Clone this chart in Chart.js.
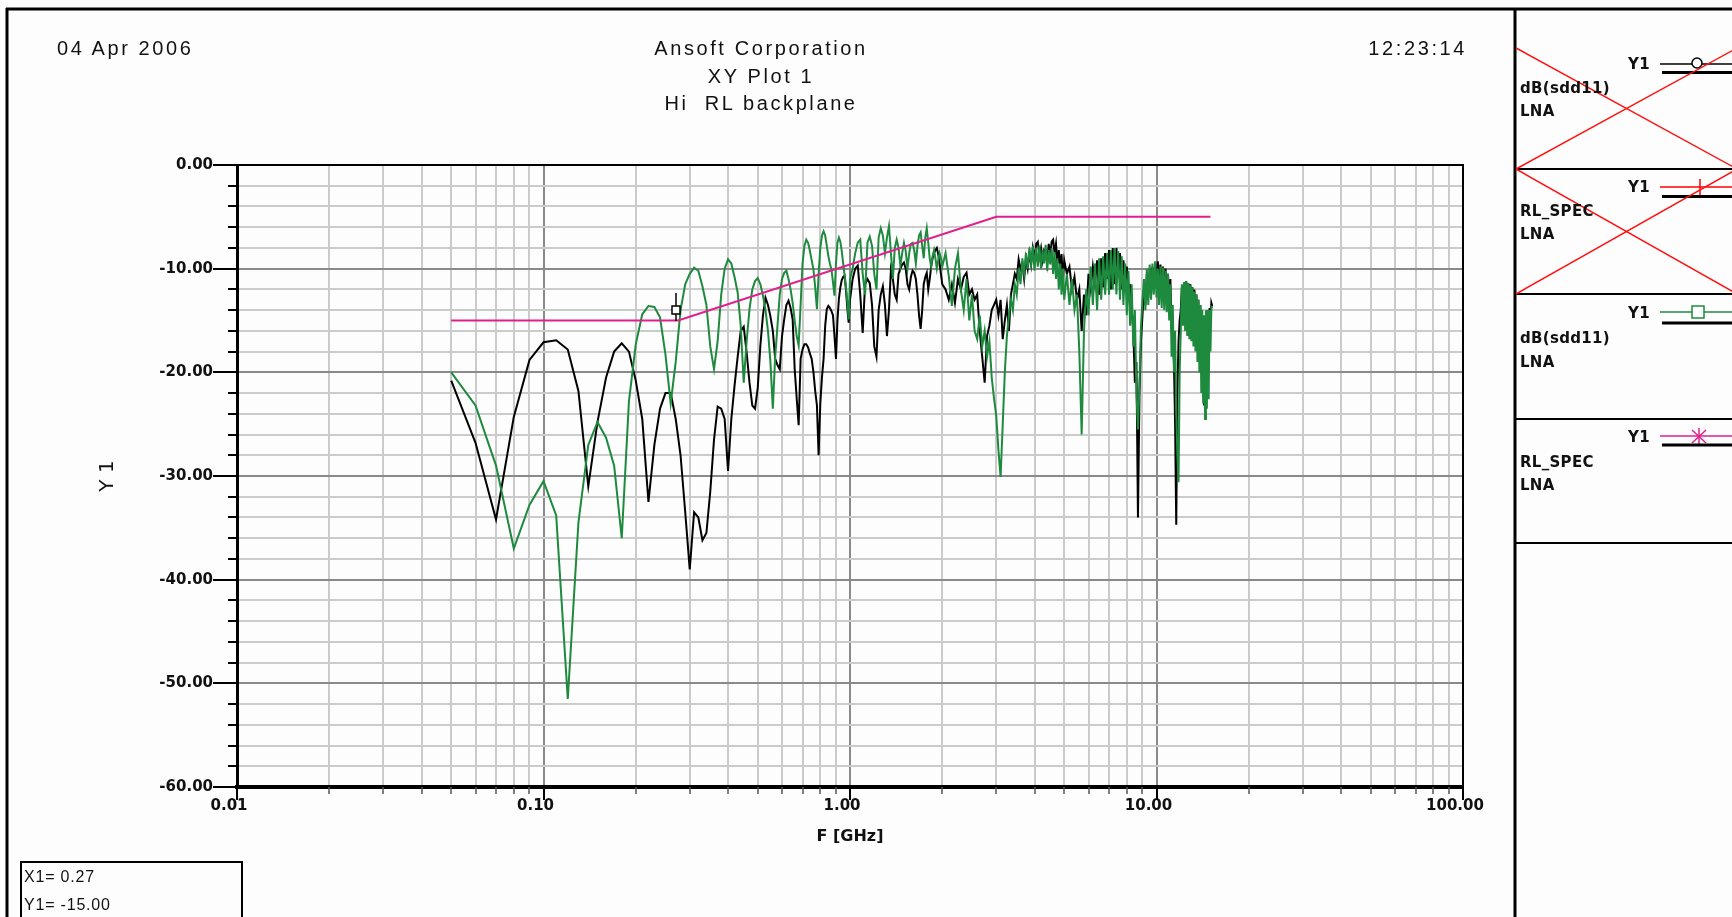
<!DOCTYPE html>
<html>
<head>
<meta charset="utf-8">
<title>XY Plot 1 - Hi RL backplane</title>
<script src="https://cdn.jsdelivr.net/npm/chart.js@4.4.1/dist/chart.umd.min.js"></script>
<style>
  html, body { margin:0; padding:0; background:#fdfdfd; }
  #page { position:relative; width:1732px; height:917px; overflow:hidden; background:#fdfdfd; }
  #chart { position:absolute; left:0; top:0; }
  #deco { position:absolute; left:0; top:0; }
  .hdr { position:absolute; font-family:"Liberation Sans", Arial, sans-serif; font-size:20px; line-height:22px; letter-spacing:2.6px; color:#111; white-space:pre; }
  .leg { position:absolute; font-family:"DejaVu Sans", sans-serif; font-weight:bold; font-size:15px; line-height:18px; letter-spacing:0.3px; color:#111; white-space:pre; }
  .mk { position:absolute; font-family:"Liberation Sans", Arial, sans-serif; font-size:16px; line-height:18px; letter-spacing:0.8px; color:#111; white-space:pre; }
</style>
</head>
<body>
<div id="page">
  <canvas id="chart" width="1732" height="917"></canvas>
  <svg id="deco" width="1732" height="917" xmlns="http://www.w3.org/2000/svg">
    <!-- outer frame -->
    <line x1="6" y1="9" x2="1732" y2="9" stroke="#000" stroke-width="3"/>
    <line x1="7" y1="8" x2="7" y2="917" stroke="#000" stroke-width="3"/>
    <line x1="1515" y1="8" x2="1515" y2="917" stroke="#000" stroke-width="3"/>
    <!-- legend panel separators -->
    <line x1="1515" y1="169" x2="1732" y2="169" stroke="#000" stroke-width="2"/>
    <line x1="1515" y1="294" x2="1732" y2="294" stroke="#000" stroke-width="2"/>
    <line x1="1515" y1="419" x2="1732" y2="419" stroke="#000" stroke-width="2"/>
    <line x1="1515" y1="543" x2="1732" y2="543" stroke="#000" stroke-width="2"/>
    <!-- panel 1 sample -->
    <line x1="1660" y1="64" x2="1732" y2="64" stroke="#000" stroke-width="1.5"/>
    <circle cx="1697" cy="63" r="5" fill="#fdfdfd" stroke="#000" stroke-width="1.5"/>
    <line x1="1662" y1="72.5" x2="1732" y2="72.5" stroke="#000" stroke-width="3"/>
    <!-- panel 2 sample -->
    <line x1="1660" y1="187" x2="1732" y2="187" stroke="#ff0000" stroke-width="1.5"/>
    <line x1="1700" y1="179" x2="1700" y2="195" stroke="#ff0000" stroke-width="1.5"/>
    <line x1="1662" y1="196.5" x2="1732" y2="196.5" stroke="#000" stroke-width="3"/>
    <!-- panel 3 sample -->
    <line x1="1660" y1="312" x2="1732" y2="312" stroke="#1e8a3e" stroke-width="1.5"/>
    <rect x="1692" y="306" width="12" height="12" fill="#fdfdfd" stroke="#1e8a3e" stroke-width="1.5"/>
    <line x1="1662" y1="323" x2="1732" y2="323" stroke="#000" stroke-width="3"/>
    <!-- panel 4 sample -->
    <line x1="1660" y1="436" x2="1732" y2="436" stroke="#e0208c" stroke-width="1.5"/>
    <g stroke="#e0208c" stroke-width="1.5">
      <line x1="1699" y1="428" x2="1699" y2="445"/>
      <line x1="1692" y1="430" x2="1706" y2="443"/>
      <line x1="1692" y1="443" x2="1706" y2="430"/>
    </g>
    <line x1="1662" y1="445" x2="1732" y2="445" stroke="#000" stroke-width="3"/>
    <!-- red crosses (hidden traces) -->
    <g stroke="#ff1010" stroke-width="1.5">
      <line x1="1516" y1="48" x2="1737" y2="169"/>
      <line x1="1516" y1="169" x2="1737" y2="48"/>
      <line x1="1516" y1="169" x2="1737" y2="294"/>
      <line x1="1516" y1="294" x2="1737" y2="169"/>
    </g>
    <!-- marker readout box -->
    <rect x="21" y="862" width="221" height="80" fill="none" stroke="#000" stroke-width="2"/>
  </svg>

  <div class="hdr" style="left:57px; top:37px;">04 Apr 2006</div>
  <div class="hdr" style="left:761px; top:37px; transform:translateX(-50%);">Ansoft Corporation</div>
  <div class="hdr" style="left:761px; top:64.5px; transform:translateX(-50%);">XY Plot 1</div>
  <div class="hdr" style="left:761px; top:92px; transform:translateX(-50%);">Hi  RL backplane</div>
  <div class="hdr" style="left:1467px; top:37px; transform:translateX(-100%);">12:23:14</div>

  <div class="leg" style="left:1628px; top:55px;">Y1</div>
  <div class="leg" style="left:1520px; top:79px;">dB(sdd11)</div>
  <div class="leg" style="left:1520px; top:102px;">LNA</div>

  <div class="leg" style="left:1628px; top:178px;">Y1</div>
  <div class="leg" style="left:1520px; top:202px;">RL_SPEC</div>
  <div class="leg" style="left:1520px; top:225px;">LNA</div>

  <div class="leg" style="left:1628px; top:304px;">Y1</div>
  <div class="leg" style="left:1520px; top:329px;">dB(sdd11)</div>
  <div class="leg" style="left:1520px; top:352.5px;">LNA</div>

  <div class="leg" style="left:1628px; top:428px;">Y1</div>
  <div class="leg" style="left:1520px; top:452.5px;">RL_SPEC</div>
  <div class="leg" style="left:1520px; top:475.5px;">LNA</div>

  <div class="mk" style="left:24px; top:868px;">X1= 0.27</div>
  <div class="mk" style="left:24px; top:896px;">Y1= -15.00</div>
</div>

<script>
// ---------------- data ----------------
const freqGHz = [
  0.05,0.06,0.07,0.08,0.09,0.10,0.11,0.12,0.13,0.14,0.15,0.16,0.17,0.18,0.19,0.20,0.21,0.22,0.23,0.24,0.25,0.26,0.27,0.28,0.29,0.30,
  0.31,0.32,0.33,0.34,0.35,0.36,0.37,0.38,0.39,0.40,
  0.41,0.42,0.43,0.44,0.45,0.46,0.47,0.48,0.49,0.50,
  0.51,0.52,0.53,0.54,0.55,0.56,0.57,0.58,0.59,0.60,
  0.61,0.62,0.63,0.64,0.65,0.66,0.67,0.68,0.69,0.70,
  0.71,0.72,0.73,0.74,0.75,0.76,0.77,0.78,0.79,0.80,
  0.81,0.82,0.83,0.84,0.85,0.86,0.87,0.88,0.89,0.90,
  0.91,0.92,0.93,0.94,0.95,0.96,0.97,0.98,0.99,1.00,
  1.02,1.04,1.06,1.08,1.10,1.12,1.14,1.16,1.18,1.20,
  1.22,1.24,1.26,1.28,1.30,1.32,1.34,1.36,1.38,1.40,
  1.42,1.44,1.46,1.48,1.50,1.52,1.54,1.56,1.58,1.60,
  1.62,1.64,1.66,1.68,1.70,1.72,1.74,1.76,1.78,1.80,
  1.82,1.84,1.86,1.88,1.90,1.92,1.94,1.96,1.98,2.00,
  2.05,2.10,2.15,2.20,2.25,2.30,2.35,2.40,2.45,2.50,
  2.55,2.60,2.65,2.70,2.75,2.80,2.85,2.90,2.95,3.00,
  3.05,3.10,3.15,3.20,3.25,3.30,3.35,3.40,3.45,3.50,
  3.55,3.60,3.65,3.70,3.75,3.80,3.85,3.90,3.95,4.00,
  4.05,4.10,4.15,4.20,4.25,4.30,4.35,4.40,4.45,4.50,
  4.55,4.60,4.65,4.70,4.75,4.80,4.85,4.90,4.95,5.00,
  5.1,5.2,5.3,5.4,5.5,5.6,5.7,5.8,5.9,6.0,
  6.1,6.2,6.3,6.4,6.5,6.6,6.7,6.8,6.9,7.0,
  7.1,7.2,7.3,7.4,7.5,7.6,7.7,7.8,7.9,8.0,
  8.1,8.2,8.3,8.4,8.5,8.6,8.7,8.8,8.9,9.0,
  9.1,9.2,9.3,9.4,9.5,9.6,9.7,9.8,9.9,10.0,
  10.1,10.2,10.3,10.4,10.5,10.6,10.7,10.8,10.9,11.0,
  11.1,11.2,11.3,11.4,11.5,11.6,11.7,11.8,11.9,12.0,
  12.1,12.2,12.3,12.4,12.5,12.6,12.7,12.8,12.9,13.0,
  13.1,13.2,13.3,13.4,13.5,13.6,13.7,13.8,13.9,14.0,
  14.1,14.2,14.3,14.4,14.5,14.6,14.7,14.8,14.9,15.0,
  15.1,15.2
];

// black trace: dB(sdd11) LNA
const blackDb = [
  -20.8,-26.8,-34.2,-24.3,-18.8,-17.1,-16.9,-17.8,-21.8,-31.0,-24.8,-20.5,-18.0,-17.2,-18.0,-20.8,-24.5,-32.5,-27.0,-23.5,-22.0,-22.0,-24.5,-28.0,-33.5,-39.0,
  -33.5,-34.0,-36.2,-35.5,-31.5,-26.5,-23.3,-23.5,-24.5,-29.5,
  -24.5,-21.3,-18.5,-16.0,-15.6,-18.1,-21.0,-23.2,-23.5,-21.5,
  -17.4,-14.5,-12.8,-13.5,-14.6,-16.0,-18.7,-19.3,-19.7,-16.5,
  -14.9,-13.5,-13.1,-13.8,-14.9,-19.7,-22.5,-25.1,-18.7,-17.8,
  -17.3,-17.3,-17.6,-18.2,-18.7,-20.0,-21.8,-23.2,-28.0,-23.0,
  -20.5,-18.7,-15.5,-13.9,-13.6,-13.8,-14.1,-14.5,-16.5,-18.7,
  -15.0,-12.9,-11.8,-11.1,-10.8,-10.7,-12.0,-13.8,-15.2,-13.0,
  -11.0,-10.0,-9.7,-12.5,-16.2,-11.5,-11.0,-11.4,-13.5,-17.5,
  -18.5,-14.0,-12.5,-11.7,-13.5,-16.5,-14.0,-10.1,-11.0,-12.5,
  -13.0,-10.5,-10.0,-9.6,-9.4,-10.0,-11.5,-12.0,-10.8,-10.2,
  -10.4,-11.0,-12.5,-14.5,-15.8,-14.0,-11.5,-10.8,-10.4,-12.0,
  -11.0,-9.8,-9.0,-8.5,-8.2,-8.0,-8.6,-9.5,-10.5,-11.5,
  -12.0,-13.0,-11.5,-13.3,-11.0,-12.0,-10.8,-10.4,-12.5,-12.0,
  -13.0,-12.5,-16.0,-18.5,-21.0,-16.5,-15.5,-14.0,-13.5,-13.0,
  -14.5,-13.0,-16.8,-15.0,-13.5,-16.0,-12.5,-11.5,-10.5,-11.0,
  -9.1,-10.0,-9.5,-11.0,-9.0,-10.0,-8.5,-9.6,-8.0,-9.0,
  -7.6,-7.4,-8.8,-8.0,-9.2,-8.2,-8.4,-9.5,-7.6,-8.8,
  -7.4,-7.2,-8.5,-7.6,-9.5,-8.2,-10.0,-8.6,-11.2,-9.2,
  -10.5,-9.8,-12.0,-10.8,-13.0,-12.0,-16.0,-12.5,-14.5,-10.5,
  -12.0,-9.8,-11.5,-9.2,-12.5,-9.0,-11.8,-8.5,-11.0,-8.2,
  -12.0,-8.0,-11.5,-8.0,-10.5,-8.5,-12.0,-9.2,-11.0,-9.8,
  -13.0,-11.5,-14.0,-16.0,-21.0,-19.0,-34.0,-22.0,-17.0,-14.5,
  -12.0,-13.5,-10.5,-12.8,-10.0,-12.5,-9.8,-12.0,-9.5,-11.5,
  -9.3,-11.5,-9.6,-12.3,-9.8,-12.8,-10.0,-13.0,-10.5,-13.5,
  -11.0,-16.0,-17.0,-19.0,-25.0,-34.7,-22.0,-17.0,-15.0,-14.0,
  -11.8,-14.5,-11.5,-15.0,-11.2,-15.5,-11.4,-16.0,-11.5,-16.5,
  -11.8,-16.8,-12.0,-17.0,-12.5,-17.0,-13.0,-18.0,-13.5,-19.0,
  -15.0,-21.0,-23.2,-18.0,-14.5,-17.5,-14.0,-19.0,-13.8,-15.5,
  -13.3,-13.6
];

// green trace: dB(sdd11) LNA
const greenDb = [
  -20.0,-23.2,-29.0,-37.0,-32.8,-30.5,-33.8,-51.5,-34.5,-27.0,-24.8,-26.3,-29.0,-36.0,-22.8,-17.3,-14.4,-13.6,-13.7,-14.7,-18.3,-23.0,-19.0,-14.0,-11.5,-10.5,
  -9.9,-10.2,-11.7,-13.5,-17.5,-19.7,-17.0,-12.5,-10.0,-9.1,
  -9.5,-10.8,-12.3,-15.5,-21.0,-17.0,-13.9,-12.0,-11.2,-10.9,
  -11.5,-12.6,-14.0,-16.0,-19.0,-23.5,-18.5,-15.5,-12.5,-11.0,
  -10.4,-10.2,-11.0,-12.0,-13.3,-15.0,-16.5,-17.4,-13.5,-9.5,
  -7.8,-7.2,-7.5,-8.3,-9.2,-10.1,-11.8,-13.9,-10.5,-8.0,
  -6.8,-6.4,-6.8,-7.8,-8.8,-9.5,-10.1,-11.3,-12.6,-9.5,
  -7.5,-7.0,-7.4,-8.3,-9.5,-10.6,-11.7,-13.2,-14.9,-11.0,
  -10.0,-8.5,-7.5,-7.2,-10.5,-12.5,-7.5,-6.9,-7.8,-10.5,
  -12.0,-7.0,-6.1,-6.8,-8.5,-7.0,-5.9,-8.5,-11.0,-8.0,
  -7.2,-8.0,-9.7,-8.5,-7.5,-8.3,-10.0,-8.5,-7.6,-7.5,
  -8.2,-9.5,-7.8,-6.8,-6.5,-7.8,-9.0,-7.0,-6.1,-7.5,
  -9.0,-9.8,-8.8,-8.2,-9.0,-10.0,-9.2,-8.5,-9.0,-9.8,
  -8.5,-10.7,-13.6,-10.0,-8.5,-12.0,-14.0,-11.0,-15.0,-12.5,
  -16.0,-16.8,-14.5,-17.5,-16.0,-18.5,-17.0,-20.5,-22.5,-24.2,
  -27.5,-30.1,-25.0,-20.0,-16.5,-14.5,-13.0,-14.0,-11.5,-12.5,
  -10.0,-11.5,-9.0,-10.5,-8.5,-10.0,-8.0,-9.5,-7.8,-10.2,
  -8.0,-9.8,-7.8,-10.0,-8.2,-9.5,-7.7,-10.2,-8.2,-9.6,
  -8.0,-10.5,-8.4,-11.0,-9.0,-12.0,-9.5,-12.5,-10.0,-13.0,
  -10.5,-13.5,-11.0,-14.0,-12.5,-18.0,-26.0,-16.0,-12.0,-14.5,
  -9.8,-13.5,-9.5,-14.0,-9.0,-13.0,-8.8,-12.5,-8.5,-12.5,
  -8.2,-12.0,-8.0,-12.5,-8.3,-13.0,-8.8,-13.5,-9.5,-14.5,
  -10.2,-15.5,-11.5,-17.5,-14.0,-22.0,-25.5,-21.0,-15.5,-13.0,
  -11.0,-14.0,-10.0,-13.5,-9.6,-13.0,-9.5,-12.5,-9.3,-12.8,
  -10.0,-13.5,-9.8,-13.8,-9.9,-14.0,-10.2,-14.2,-10.5,-15.0,
  -11.5,-18.5,-13.5,-20.0,-16.0,-24.0,-28.0,-30.6,-20.0,-16.0,
  -11.5,-15.5,-11.3,-16.0,-11.2,-16.5,-11.4,-16.8,-11.6,-17.0,
  -11.8,-17.5,-12.2,-18.0,-12.5,-19.0,-13.0,-20.0,-13.5,-22.0,
  -14.0,-23.0,-14.5,-24.5,-14.0,-23.5,-14.0,-22.6,-14.0,-18.0,
  -13.8,-13.6
];

// magenta RL_SPEC mask
const specFreqGHz = [0.05, 0.275, 3.0, 15.0];
const specDb      = [-15, -15, -5, -5];

// marker X1 / Y1
const markerX = 0.27;
const markerY = -15.0;

// axis ticks and labels
const xMajorTicks = [0.01, 0.1, 1, 10, 100];
const xTickLabels = ['0.01', '0.10', '1.00', '10.00', '100.00'];
const yMajorTicks = [0, -10, -20, -30, -40, -50, -60];
const yTickLabels = ['0.00', '-10.00', '-20.00', '-30.00', '-40.00', '-50.00', '-60.00'];

// ---------------- chart ----------------
const COL_BLACK = '#000000';
const COL_GREEN = '#1e8a3e';
const COL_MAG   = '#e0208c';
const GRID_MAJOR = '#8a8a8a';
const GRID_MINOR = '#cbcbcb';

const isDecade = v => xMajorTicks.some(m => Math.abs(Math.log10(v / m)) < 1e-6);

const xGridVals = [];
for (let d = 0; d < 4; d++) {
  for (let k = 1; k <= 9; k++) xGridVals.push(+(xMajorTicks[d] * k).toPrecision(3));
}
xGridVals.push(100);

const decoPlugin = {
  id: 'deco',
  afterDraw(chart) {
    const { ctx, chartArea: a, scales: { x, y } } = chart;
    ctx.save();
    ctx.strokeStyle = '#000';
    ctx.lineWidth = 2;
    ctx.beginPath();
    ctx.moveTo(a.left, a.top); ctx.lineTo(a.right + 1, a.top);
    ctx.moveTo(a.right, a.top); ctx.lineTo(a.right, a.bottom + 13);
    ctx.stroke();
    // y ticks
    y.ticks.forEach(t => {
      const py = Math.round(y.getPixelForValue(t.value));
      const major = yMajorTicks.includes(t.value);
      ctx.beginPath();
      ctx.lineWidth = 2;
      if (major) { ctx.moveTo(a.left - 24, py); ctx.lineTo(a.left, py); }
      else { ctx.moveTo(a.left - 9, py); ctx.lineTo(a.left + 2, py); }
      ctx.stroke();
    });
    // x ticks
    x.ticks.forEach(t => {
      const px = Math.round(x.getPixelForValue(t.value));
      const major = isDecade(t.value);
      ctx.beginPath();
      ctx.lineWidth = major ? 2 : 1.5;
      ctx.strokeStyle = major ? '#000' : '#555';
      ctx.moveTo(px, a.bottom); ctx.lineTo(px, a.bottom + (major ? 13 : 7));
      ctx.stroke();
    });
    // marker flag
    const mx = Math.round(x.getPixelForValue(markerX));
    const my = Math.round(y.getPixelForValue(markerY));
    ctx.strokeStyle = '#000';
    ctx.lineWidth = 1.5;
    ctx.beginPath();
    ctx.moveTo(mx, my); ctx.lineTo(mx, my - 28);
    ctx.stroke();
    ctx.fillStyle = '#fdfdfd';
    ctx.fillRect(mx - 4, my - 15, 8, 8);
    ctx.strokeRect(mx - 4, my - 15, 8, 8);
    ctx.restore();
  }
};

const toPts = (xs, ys) => xs.map((f, i) => ({ x: f, y: ys[i] }));

new Chart(document.getElementById('chart'), {
  type: 'scatter',
  data: {
    datasets: [
      { label: 'RL_SPEC LNA', data: toPts(specFreqGHz, specDb), showLine: true, borderColor: COL_MAG, backgroundColor: COL_MAG, borderWidth: 2, pointRadius: 0, order: 0 },
      { label: 'dB(sdd11) LNA (2)', data: toPts(freqGHz, greenDb), showLine: true, borderColor: COL_GREEN, backgroundColor: COL_GREEN, borderWidth: 2, pointRadius: 0, order: 1 },
      { label: 'dB(sdd11) LNA', data: toPts(freqGHz, blackDb), showLine: true, borderColor: COL_BLACK, backgroundColor: COL_BLACK, borderWidth: 2, pointRadius: 0, order: 2 }
    ]
  },
  options: {
    responsive: false,
    animation: false,
    devicePixelRatio: 1,
    layout: { padding: { left: 0, top: 165, right: 269, bottom: 0 } },
    plugins: { legend: { display: false }, tooltip: { enabled: false } },
    elements: { line: { tension: 0 } },
    scales: {
      x: {
        type: 'logarithmic',
        min: 0.01, max: 100,
        afterBuildTicks(s) { s.ticks = xGridVals.map(v => ({ value: v })); },
        afterFit(s) { s.height = 130; s.paddingLeft = 0; s.paddingRight = 0; },
        ticks: {
          autoSkip: false, maxRotation: 0, minRotation: 0,
          padding: 10, labelOffset: -8,
          color: '#111',
          font: { family: 'DejaVu Sans', size: 15, weight: 'bold' },
          callback(v) {
            const i = xMajorTicks.findIndex(m => Math.abs(Math.log10(v / m)) < 1e-6);
            return i >= 0 ? xTickLabels[i] : '';
          }
        },
        grid: {
          drawTicks: false, lineWidth: 2,
          color: c => (c.tick && isDecade(c.tick.value)) ? GRID_MAJOR : GRID_MINOR
        },
        border: { display: true, color: '#000', width: 4 },
        title: {
          display: true, text: 'F [GHz]', color: '#111',
          font: { family: 'DejaVu Sans', size: 16, weight: 'bold' },
          padding: { top: 0, bottom: 71 }
        }
      },
      y: {
        type: 'linear',
        min: -60, max: 0,
        afterFit(s) { s.width = 237; s.paddingTop = 0; s.paddingBottom = 0; },
        ticks: {
          stepSize: 2, autoSkip: false, padding: 24,
          color: '#111',
          font: { family: 'DejaVu Sans', size: 15, weight: 'bold' },
          callback(v) {
            const i = yMajorTicks.indexOf(v);
            return i >= 0 ? yTickLabels[i] : '';
          }
        },
        grid: {
          drawTicks: false, lineWidth: 2,
          color: c => (c.tick && yMajorTicks.includes(c.tick.value)) ? GRID_MAJOR : GRID_MINOR
        },
        border: { display: true, color: '#000', width: 3 },
        title: {
          display: true, text: 'Y 1', color: '#111',
          font: { family: 'DejaVu Sans', size: 20 },
          padding: { top: 96, bottom: 0 }
        }
      }
    }
  },
  plugins: [decoPlugin]
});
</script>
</body>
</html>
